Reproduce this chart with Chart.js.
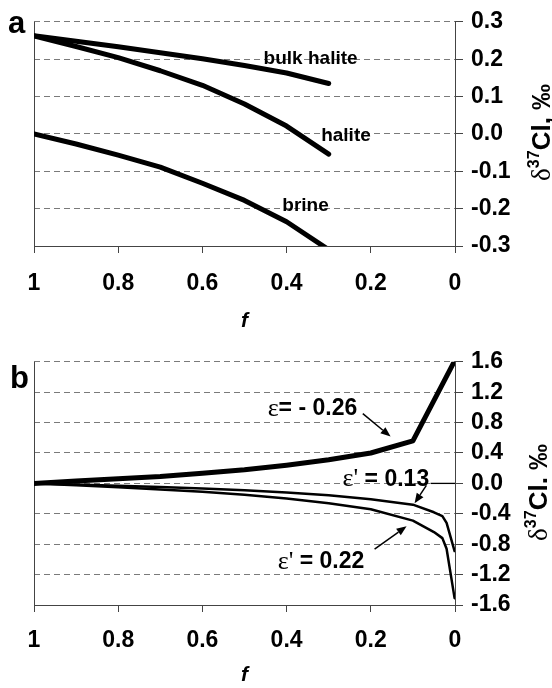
<!DOCTYPE html>
<html>
<head>
<meta charset="utf-8">
<script src="https://cdn.jsdelivr.net/npm/chart.js@4.4.0/dist/chart.umd.min.js"></script>
<style>
  html, body { margin: 0; padding: 0; background: #fff; }
  .panel { position: absolute; left: 0; width: 552px; }
  #wrapA { top: 0; height: 340px; }
  #wrapB { top: 340px; height: 348px; }
</style>
</head>
<body>
<div class="panel" id="wrapA"><canvas id="chartA"></canvas></div>
<div class="panel" id="wrapB"><canvas id="chartB"></canvas></div>
<script>
// panel a: remaining fraction f vs delta37Cl (permil)
const fA = [1, 0.9, 0.8, 0.7, 0.6, 0.5, 0.4, 0.3];
const bulkHalite = [0.263, 0.248, 0.233, 0.217, 0.201, 0.183, 0.163, 0.135];
const halite = [0.262, 0.234, 0.204, 0.169, 0.130, 0.080, 0.021, -0.054];
const brine = [0.0, -0.027, -0.057, -0.089, -0.132, -0.178, -0.235, -0.31];

// panel b
const fB1 = [1, 0.9, 0.8, 0.7, 0.6, 0.5, 0.4, 0.3, 0.2, 0.1, 0.002];
const epsNeg026 = [0, 0.03, 0.06, 0.09, 0.135, 0.18, 0.24, 0.31, 0.40, 0.56, 1.6];
const fB2 = [1, 0.9, 0.8, 0.7, 0.6, 0.5, 0.4, 0.3, 0.2, 0.1, 0.05, 0.03, 0.02, 0.001];
const eps013 = [0, -0.014, -0.03, -0.046, -0.066, -0.09, -0.12, -0.155, -0.21, -0.28, -0.38, -0.43, -0.52, -0.89];
const eps022 = [0, -0.023, -0.05, -0.08, -0.11, -0.15, -0.20, -0.26, -0.34, -0.49, -0.64, -0.72, -0.86, -1.51];

// axis ticks
const fTicks = [1, 0.8, 0.6, 0.4, 0.2, 0];
const yTicksA = [0.3, 0.2, 0.1, 0, -0.1, -0.2, -0.3];
const yTicksB = [1.6, 1.2, 0.8, 0.4, 0, -0.4, -0.8, -1.2, -1.6];

const SANS = '"Liberation Sans", Arial, Helvetica, sans-serif';
const SERIF = '"Liberation Serif", "Times New Roman", serif';
const bold = s => `bold ${s}px ${SANS}`;
const serif = s => `${s}px ${SERIF}`;
const AXIS = '#444';
const GRID = '#7a7a7a';

function pts(xs, ys) {
  return xs.map((x, i) => ({ x: x, y: ys[i] }));
}

function curve(label, xs, ys, width) {
  return {
    label: label,
    data: pts(xs, ys),
    borderColor: '#000',
    backgroundColor: '#000',
    borderWidth: width,
    borderCapStyle: 'round',
    borderJoinStyle: 'round',
    pointRadius: 0,
    tension: 0,
    fill: false
  };
}

// text made of several runs with different fonts
function drawParts(ctx, parts, x, y, align, baseline) {
  let total = 0;
  parts.forEach(p => {
    ctx.font = p.font;
    p.w = ctx.measureText(p.text).width;
    total += p.w;
  });
  let cx = align === 'center' ? x - total / 2 : x;
  ctx.textAlign = 'left';
  ctx.textBaseline = baseline || 'middle';
  ctx.fillStyle = '#000';
  parts.forEach(p => {
    ctx.font = p.font;
    ctx.fillText(p.text, cx, y - (p.rise || 0));
    cx += p.w;
  });
}

function arrow(ctx, x1, y1, x2, y2) {
  const a = Math.atan2(y2 - y1, x2 - x1);
  const len = 10, hw = 4;
  ctx.strokeStyle = '#000';
  ctx.fillStyle = '#000';
  ctx.lineWidth = 1.5;
  ctx.beginPath();
  ctx.moveTo(x1, y1);
  ctx.lineTo(x2 - len * Math.cos(a), y2 - len * Math.sin(a));
  ctx.stroke();
  ctx.beginPath();
  ctx.moveTo(x2, y2);
  ctx.lineTo(x2 - len * Math.cos(a) + hw * Math.sin(a), y2 - len * Math.sin(a) - hw * Math.cos(a));
  ctx.lineTo(x2 - len * Math.cos(a) - hw * Math.sin(a), y2 - len * Math.sin(a) + hw * Math.cos(a));
  ctx.closePath();
  ctx.fill();
}

const decor = {
  id: 'decor',
  beforeDatasetsDraw(chart) {
    const { ctx, chartArea: ca } = chart;
    ctx.save();
    ctx.strokeStyle = AXIS;
    ctx.lineWidth = 1;
    ctx.beginPath();
    ctx.moveTo(ca.left + 0.5, ca.top);
    ctx.lineTo(ca.left + 0.5, ca.bottom);
    ctx.stroke();
    ctx.restore();
  },
  afterDatasetsDraw(chart, args, o) {
    const { ctx, chartArea: ca, scales: { x, y } } = chart;
    ctx.save();
    // panel letter
    ctx.font = bold(31);
    ctx.fillStyle = '#000';
    ctx.textAlign = 'left';
    ctx.textBaseline = 'alphabetic';
    ctx.fillText(o.letter, o.letterX, o.letterY);

    (o.segments || []).forEach(s => {
      ctx.strokeStyle = '#000';
      ctx.lineWidth = 1.3;
      ctx.beginPath();
      ctx.moveTo(x.getPixelForValue(s[0]), y.getPixelForValue(s[1]));
      ctx.lineTo(x.getPixelForValue(s[2]), y.getPixelForValue(s[3]));
      ctx.stroke();
    });
    (o.arrows || []).forEach(a => {
      arrow(ctx, x.getPixelForValue(a[0]), y.getPixelForValue(a[1]),
        x.getPixelForValue(a[2]), y.getPixelForValue(a[3]));
    });
    (o.texts || []).forEach(t => {
      drawParts(ctx, t.parts, x.getPixelForValue(t.f), y.getPixelForValue(t.v), t.align);
    });

    // rotated axis title with superscript
    ctx.translate(o.titleX, (ca.top + ca.bottom) / 2 + o.titleShift);
    ctx.rotate(-Math.PI / 2);
    drawParts(ctx, o.title, 0, 0, 'center', 'alphabetic');
    ctx.restore();
  }
};

function scales(yTicks, xHeight, tickPad, titlePad) {
  return {
    x: {
      type: 'linear',
      min: 0,
      max: 1,
      reverse: true,
      afterBuildTicks: s => { s.ticks = fTicks.map(v => ({ value: v })); },
      afterFit: s => { s.height = xHeight; },
      grid: { drawOnChartArea: false, drawTicks: true, tickLength: 7, color: AXIS, lineWidth: 1 },
      border: { display: true, color: AXIS, width: 1 },
      ticks: {
        color: '#000',
        font: { family: SANS, size: 23, weight: 'bold' },
        padding: tickPad,
        maxRotation: 0,
        autoSkip: false,
        callback: v => String(v)
      },
      title: {
        display: true,
        text: 'f',
        color: '#000',
        font: { family: SANS, size: 21, weight: 'bold', style: 'italic' },
        padding: { top: titlePad, bottom: titlePad }
      }
    },
    y: {
      position: 'right',
      min: yTicks[yTicks.length - 1],
      max: yTicks[0],
      afterBuildTicks: s => { s.ticks = yTicks.map(v => ({ value: v })); },
      afterFit: s => { s.width = 97; },
      grid: {
        color: GRID,
        lineWidth: 1,
        drawTicks: true,
        tickLength: 8,
        tickColor: AXIS,
        tickBorderDash: []
      },
      border: { display: true, color: AXIS, width: 1, dash: [6, 4] },
      ticks: {
        color: '#000',
        font: { family: SANS, size: 23, weight: 'bold' },
        padding: 8,
        autoSkip: false,
        callback: v => v.toFixed(1)
      }
    }
  };
}

const common = {
  responsive: true,
  maintainAspectRatio: false,
  animation: false,
  events: []
};

new Chart(document.getElementById('chartA'), {
  type: 'line',
  data: {
    datasets: [
      curve('bulk halite', fA, bulkHalite, 5),
      curve('halite', fA, halite, 5),
      curve('brine', fA, brine, 5)
    ]
  },
  options: Object.assign({}, common, {
    layout: { padding: { left: 34, top: 20, right: 0, bottom: 0 } },
    scales: scales(yTicksA, 94, 17, 6),
    plugins: {
      legend: { display: false },
      tooltip: { enabled: false },
      decor: {
        letter: 'a', letterX: 8, letterY: 33,
        titleX: 550, titleShift: -1.5,
        title: [
          { text: 'δ', font: serif(27) },
          { text: '37', font: bold(16), rise: 11 },
          { text: 'Cl, ‰', font: bold(26) }
        ],
        texts: [
          { f: 0.343, v: 0.202, align: 'center', parts: [{ text: 'bulk halite', font: bold(19) }] },
          { f: 0.259, v: -0.005, align: 'center', parts: [{ text: 'halite', font: bold(19) }] },
          { f: 0.355, v: -0.191, align: 'center', parts: [{ text: 'brine', font: bold(19) }] }
        ]
      }
    }
  }),
  plugins: [decor]
});

new Chart(document.getElementById('chartB'), {
  type: 'line',
  data: {
    datasets: [
      curve('ε = -0.26', fB1, epsNeg026, 5),
      curve("ε' = 0.13", fB2, eps013, 2.5),
      curve("ε' = 0.22", fB2, eps022, 2.5)
    ]
  },
  options: Object.assign({}, common, {
    layout: { padding: { left: 34, top: 21, right: 0, bottom: 0 } },
    scales: scales(yTicksB, 83, 15, 0),
    plugins: {
      legend: { display: false },
      tooltip: { enabled: false },
      decor: {
        letter: 'b', letterX: 10, letterY: 48,
        titleX: 547, titleShift: 9,
        title: [
          { text: 'δ', font: serif(27) },
          { text: '37', font: bold(16), rise: 11 },
          { text: 'Cl. ‰', font: bold(26) }
        ],
        segments: [[0.058, 0, 0, 0]],
        arrows: [
          [0.219, 0.918, 0.153, 0.616],
          [0.068, -0.026, 0.096, -0.262],
          [0.191, -0.866, 0.115, -0.564]
        ],
        texts: [
          { f: 0.445, v: 0.98, align: 'left', parts: [
            { text: 'ε', font: serif(26) }, { text: '= - 0.26', font: bold(23) }] },
          { f: 0.267, v: 0.052, align: 'left', parts: [
            { text: "ε'", font: serif(26) }, { text: ' = 0.13', font: bold(23) }] },
          { f: 0.421, v: -1.036, align: 'left', parts: [
            { text: "ε'", font: serif(26) }, { text: ' = 0.22', font: bold(23) }] }
        ]
      }
    }
  }),
  plugins: [decor]
});
</script>
</body>
</html>
